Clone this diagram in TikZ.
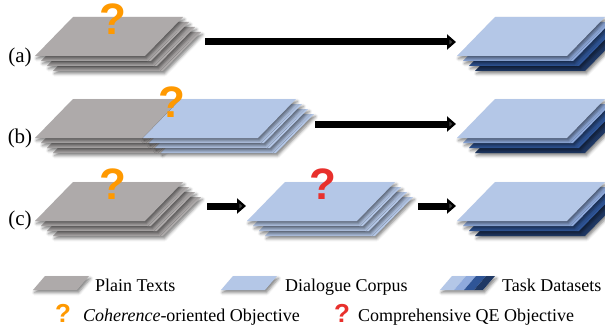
\documentclass[tikz,border=0pt]{standalone}
\usepackage{fontspec}
\setmainfont{Liberation Serif}
\newfontfamily\qmfont{Liberation Sans}
\usetikzlibrary{arrows.meta,shadows.blur}
\definecolor{plaingray}{HTML}{AEAAAA}
\definecolor{dialblue}{HTML}{B4C7E7}
\definecolor{taskmid}{HTML}{8FAADC}
\definecolor{taskdark}{HTML}{2F5597}
\definecolor{tasknavy}{HTML}{1F3864}
\definecolor{qorange}{HTML}{FF9900}
\definecolor{qred}{HTML}{E8302C}
\newcommand\sheet[4]{\fill[#4,sheetshade] (#1,#2) -- ++(#3,0) -- ++(38,-39) -- ++(-#3,0) -- cycle;}
\newcommand\stack[7]{\foreach \k/\c in {3/#7,2/#6,1/#5,0/#4}{\sheet{#1+6*\k}{#2+5*\k}{#3}{\c}}}
\begin{document}
\begin{tikzpicture}[x=1pt,y=-1pt, line join=round,
    sheetshade/.style={blur shadow={shadow xshift=1.5pt,shadow yshift=-2.5pt,shadow blur radius=3pt,shadow opacity=50}},
    bigarrow/.style={line width=7pt,-{Triangle[length=9pt,width=15pt]}},
    qmark/.style={font=\qmfont\bfseries\fontsize{44}{44}\selectfont,inner sep=0pt},
    qsmall/.style={font=\qmfont\bfseries\fontsize{26}{26}\selectfont,inner sep=0pt},
    rowlabel/.style={font=\rmfamily\fontsize{21}{22}\selectfont,inner sep=0pt},
    legtext/.style={font=\rmfamily\fontsize{18}{20}\selectfont,anchor=base west,inner sep=0pt}]
    \useasboundingbox (0,0) rectangle (605,329);
    \def\ya{56}\def\yb{138}\def\yc{221}
    % stacks
    \stack{35}{\ya}{110}{plaingray}{plaingray}{plaingray}{plaingray}
    \stack{457}{\ya}{110}{dialblue}{taskmid}{taskdark}{tasknavy}
    \foreach \k in {3,2,1,0}{\sheet{35+6*\k}{\yb+5*\k}{108}{plaingray}\sheet{143+6*\k}{\yb+5*\k}{115}{dialblue}}
    \stack{457}{\yb}{110}{dialblue}{taskmid}{taskdark}{tasknavy}
    \stack{35}{\yc}{110}{plaingray}{plaingray}{plaingray}{plaingray}
    \stack{247}{\yc}{110}{dialblue}{dialblue}{dialblue}{dialblue}
    \stack{457}{\yc}{110}{dialblue}{taskmid}{taskdark}{tasknavy}
    \node[rowlabel] (la) at (20,57) {(a)};
    \node[rowlabel] (lb) at (20,138) {(b)};
    \node[rowlabel] (lc) at (20,220) {(c)};
    \node[qmark,text=qorange] (qa) at (113,19) {?};
    \node[qmark,text=qorange] (qb) at (172,102) {?};
    \node[qmark,text=qorange] (qc) at (113,184) {?};
    \node[qmark,text=qred] (qd) at (323,184) {?};
    % arrows
    \coordinate (a-src) at (205,42); \coordinate (a-tgt) at (456,42);
    \coordinate (b-src) at (315,124); \coordinate (b-tgt) at (456,124);
    \coordinate (c-src) at (207,206); \coordinate (c-mid) at (246,206);
    \coordinate (c-out) at (418,206); \coordinate (c-tgt) at (456,206);
    \draw[bigarrow] (a-src) -- (a-tgt);
    \draw[bigarrow] (b-src) -- (b-tgt);
    \draw[bigarrow] (c-src) -- (c-mid);
    \draw[bigarrow] (c-out) -- (c-tgt);
    % legend
    \fill[plaingray,sheetshade] (33,290) -- ++(44,0) -- ++(12,-14) -- ++(-44,0) -- cycle;
    \fill[dialblue,sheetshade] (221,290) -- ++(44,0) -- ++(12,-14) -- ++(-44,0) -- cycle;
    \fill[white,sheetshade] (440,290) -- ++(43,0) -- ++(12,-14) -- ++(-43,0) -- cycle;
    \foreach \x/\w/\c in {440/14/dialblue,454/10/taskmid,464/10/taskdark,474/9/tasknavy}
        \fill[\c] (\x,290) -- ++(\w,0) -- ++(12,-14) -- ++(-\w,0) -- cycle;
    \node[legtext] (lp) at (95,291) {Plain Texts};
    \node[legtext] (ld) at (285,291) {Dialogue Corpus};
    \node[legtext] (lt) at (502,291) {Task Datasets};
    \node[qsmall,text=qorange] (lqa) at (63,313) {?};
    \node[legtext] (lco) at (83,321) {\textit{Coherence}-oriented Objective};
    \node[qsmall,text=qred] (lqb) at (342,313) {?};
    \node[legtext] (lqe) at (358,321) {Comprehensive QE Objective};
\end{tikzpicture}
\end{document}
